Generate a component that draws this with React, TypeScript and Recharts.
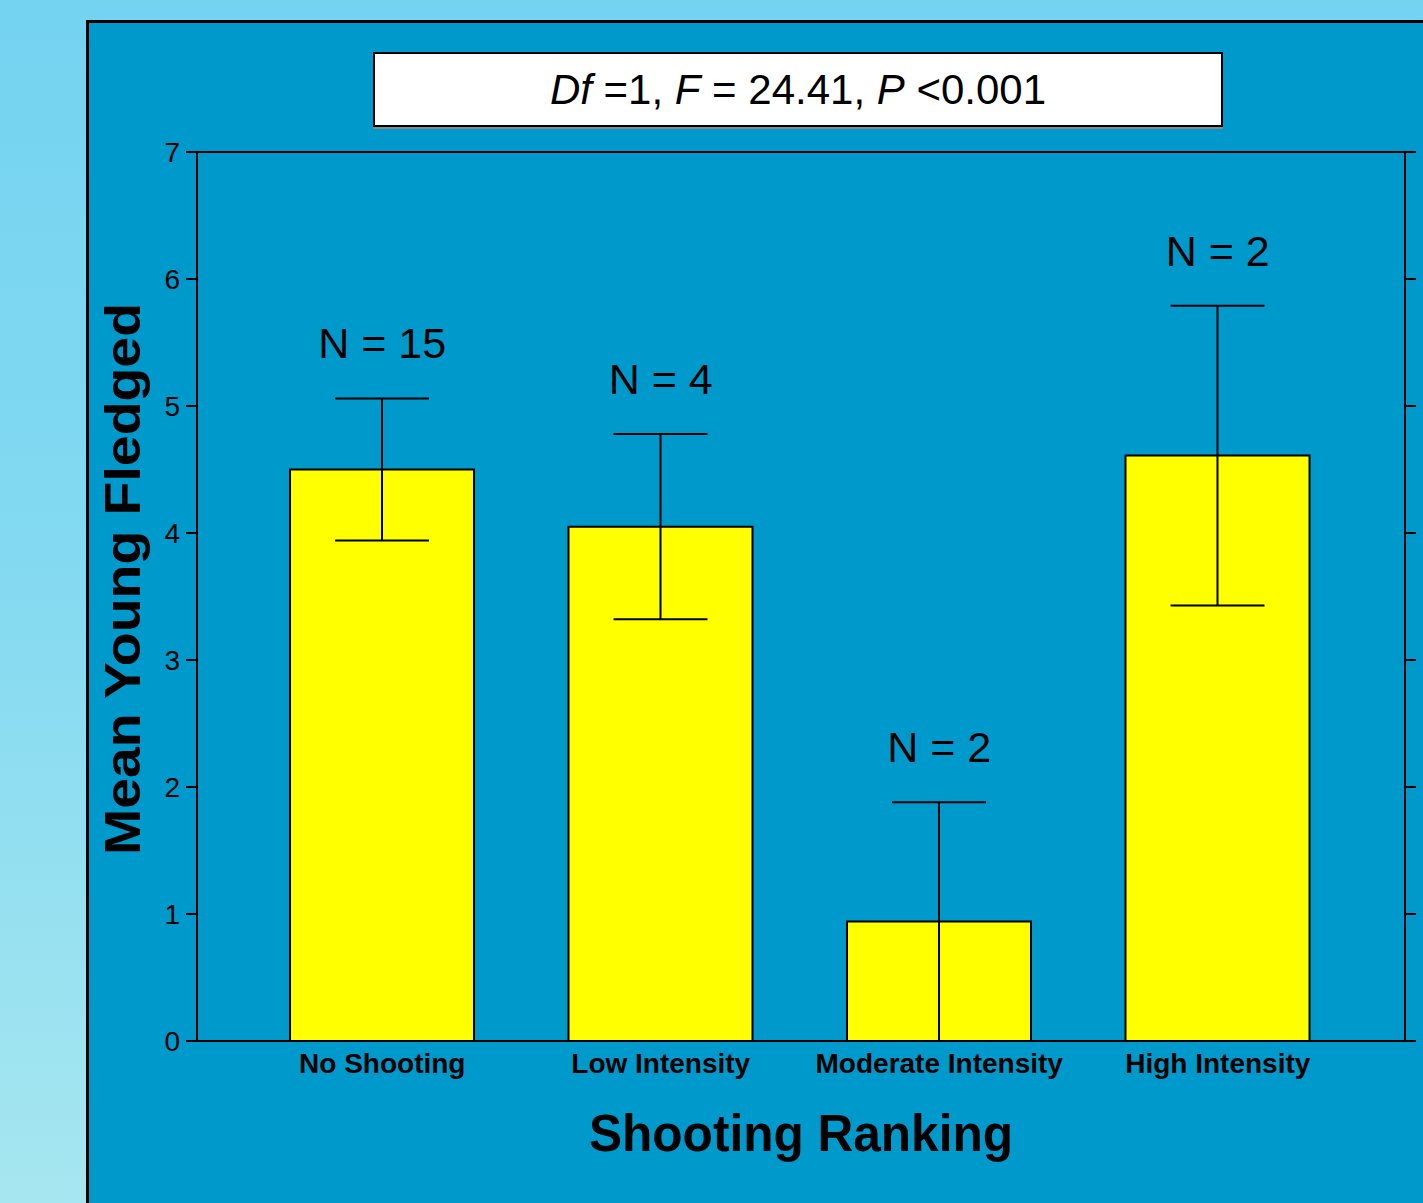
import React from 'react';
import {
  ComposedChart,
  Bar,
  Line,
  XAxis,
  YAxis,
  ErrorBar,
  LabelList,
  ReferenceLine,
  Label,
} from 'recharts';

const categories = ['No Shooting', 'Low Intensity', 'Moderate Intensity', 'High Intensity'];
const meanYoung = [4.5, 4.05, 0.94, 4.61];
const stdErrors = [0.56, 0.73, 0.94, 1.18];
const sampleSizes = [15, 4, 2, 2];
const yTicks = [0, 1, 2, 3, 4, 5, 6, 7];

const data = categories.map((name, i) => ({
  name,
  mean: meanYoung[i],
  err: stdErrors[i],
  top: meanYoung[i] + stdErrors[i],
  n: sampleSizes[i],
}));

const FONT = "'Liberation Sans', Arial, Helvetica, sans-serif";

const YLabel = () => {
  const cx = 140;
  const cy = 579;
  return (
    <text
      x={0}
      y={0}
      transform={`translate(${cx},${cy}) rotate(-90)`}
      textAnchor="middle"
      fontSize={50}
      fontWeight="bold"
      fill="#000"
      fontFamily={FONT}
      textLength={552}
      lengthAdjust="spacingAndGlyphs"
    >
      Mean Young Fledged
    </text>
  );
};

const XLabel = (props: any) => {
  const vb = props.viewBox || {};
  const cx = (vb.x ?? 197) + (vb.width ?? 1208) / 2;
  return (
    <text
      x={cx}
      y={1151}
      textAnchor="middle"
      fontSize={52}
      fontWeight="bold"
      fill="#000"
      fontFamily={FONT}
      textLength={424}
      lengthAdjust="spacingAndGlyphs"
    >
      Shooting Ranking
    </text>
  );
};

export default function App() {
  return (
    <div
      style={{
        position: 'absolute',
        left: 0,
        top: 0,
        width: 1423,
        height: 1203,
        overflow: 'hidden',
        fontFamily: FONT,
        background: 'linear-gradient(to bottom, #74D3F1 0%, #82D9F1 45%, #A6E6F0 100%)',
      }}
    >
      <div
        style={{
          position: 'absolute',
          left: 86,
          top: 20,
          width: 1423,
          height: 1203,
          background: '#0099CC',
          borderLeft: '3px solid #000',
          borderTop: '3px solid #000',
          boxSizing: 'border-box',
        }}
      />
      <div style={{ position: 'absolute', left: 0, top: 0 }}>
        <ComposedChart
          width={1423}
          height={1203}
          data={data}
          margin={{ top: 152, right: 0, bottom: 0, left: 97 }}
        >
          <XAxis
            dataKey="name"
            type="category"
            padding={{ left: 46, right: 48 }}
            height={162}
            axisLine={{ stroke: '#000', strokeWidth: 2 }}
            tickLine={false}
            tickSize={0}
            tickMargin={12}
            interval={0}
            tick={{ fill: '#000', fontSize: 28, fontWeight: 'bold', fontFamily: FONT }}
          >
            <Label content={XLabel} />
          </XAxis>
          <YAxis
            yAxisId="left"
            type="number"
            domain={[0, 7]}
            ticks={yTicks}
            interval={0}
            width={100}
            axisLine={{ stroke: '#000', strokeWidth: 2 }}
            tickLine={{ stroke: '#000', strokeWidth: 2 }}
            tickSize={11}
            tickMargin={6}
            tick={{ fill: '#000', fontSize: 28, fontFamily: FONT }}
          >
            <Label content={YLabel} />
          </YAxis>
          <YAxis
            yAxisId="right"
            orientation="right"
            type="number"
            domain={[0, 7]}
            ticks={yTicks}
            interval={0}
            width={18}
            axisLine={{ stroke: '#000', strokeWidth: 2 }}
            tickLine={{ stroke: '#000', strokeWidth: 2 }}
            tickSize={11}
            tick={{ fill: 'none', fontSize: 1 }}
          />
          <ReferenceLine yAxisId="left" y={7} stroke="#000" strokeWidth={2} />
          <Bar
            yAxisId="left"
            dataKey="mean"
            fill="#FFFF00"
            stroke="#000"
            strokeWidth={2}
            barSize={184}
            isAnimationActive={false}
          >
            <ErrorBar dataKey="err" width={47} stroke="#000" strokeWidth={2} direction="y" />
          </Bar>
          <Line
            yAxisId="right"
            dataKey="mean"
            stroke="none"
            dot={false}
            activeDot={false}
            legendType="none"
            isAnimationActive={false}
          />
          <Line
            yAxisId="left"
            dataKey="top"
            stroke="none"
            dot={false}
            activeDot={false}
            legendType="none"
            isAnimationActive={false}
          >
            <LabelList
              dataKey="n"
              position="top"
              offset={40}
              formatter={(v: any) => `N = ${v}`}
              fill="#000"
              fontSize={43}
              fontFamily={FONT}
            />
          </Line>
        </ComposedChart>
      </div>
      <div
        style={{
          position: 'absolute',
          left: 373,
          top: 52,
          width: 850,
          height: 75,
          boxSizing: 'border-box',
          background: '#fff',
          border: '2px solid #000',
          boxShadow: '0 2px 0 #888',
          display: 'flex',
          alignItems: 'center',
          justifyContent: 'center',
          fontSize: 42,
          color: '#000',
          fontFamily: FONT,
          lineHeight: 1,
          whiteSpace: 'pre',
        }}
      >
        <span>
          <i>Df</i> =1, <i>F</i> = 24.41, <i>P</i> &lt;0.001
        </span>
      </div>
    </div>
  );
}
